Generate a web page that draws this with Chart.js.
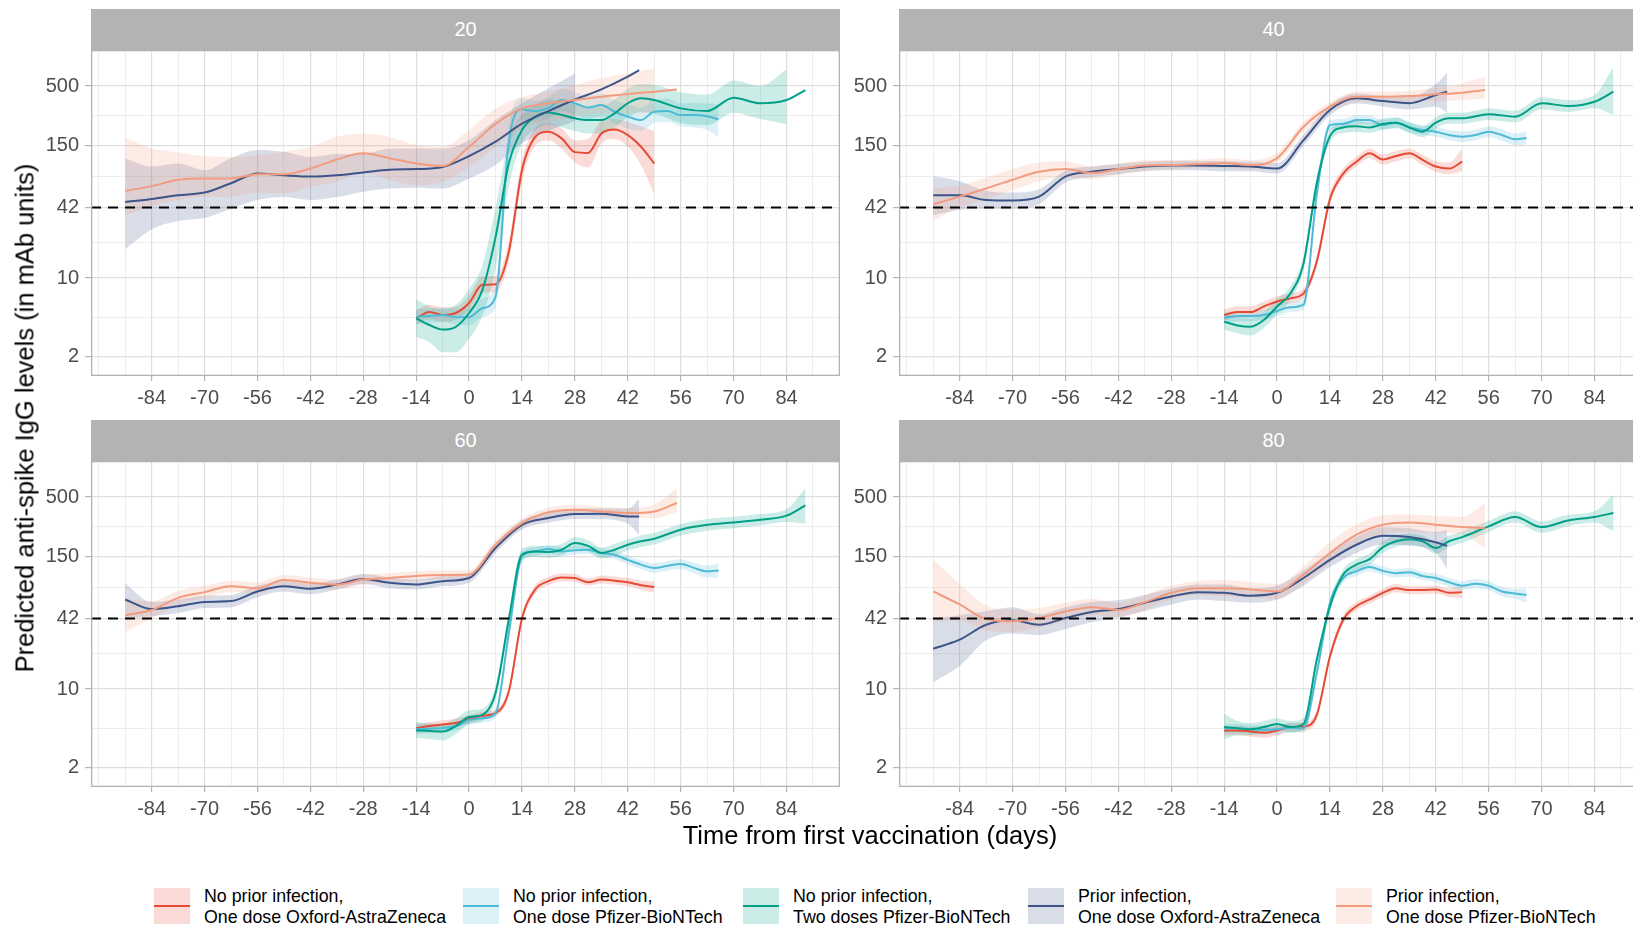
<!DOCTYPE html>
<html>
<head>
<meta charset="utf-8">
<script src="https://cdn.jsdelivr.net/npm/chart.js@4.4.1/dist/chart.umd.min.js"></script>
<style>
  body { margin: 0; width: 1633px; height: 930px; overflow: hidden; background: #fff; position: relative;
         font-family: "Liberation Sans", Arial, sans-serif; }
  canvas { position: absolute; }
  .strip { position: absolute; background: #b3b3b3; color: #fff; font-size: 20px;
           display: flex; align-items: center; justify-content: center; }
  .title { position: absolute; font-size: 25.5px; color: #000; white-space: nowrap; }
  .key { position: absolute; width: 36px; height: 36px; }
  .key i { position: absolute; left: 0; right: 0; top: 17px; height: 2px; }
  .ltext { position: absolute; font-size: 17.8px; line-height: 21px; color: #000; white-space: nowrap; }
</style>
</head>
<body>
<script>
// days on the x axis for each group
const dayNaiveAZ = [-14, -10.5, -7, -3.5, 0, 3.5, 7, 10.5, 14, 17.5, 21, 24.5, 28, 31.5, 35, 38.5, 42, 45.5, 49];
const dayNaivePf1 = [...dayNaiveAZ, 52.5, 56, 59.5, 63, 66];
const dayNaivePf2 = [...dayNaiveAZ, 56, 63, 70, 77, 84, 89];
const dayPriorAZ = [-91, -84, -77, -70, -63, -56, -49, -42, -35, -28, -21, -14, -7, 0, 7, 14, 21, 28, 35, 42, 45];
const dayPriorPf = [-91, -84, -77, -70, -63, -56, -49, -42, -35, -28, -21, -14, -7, 0, 7, 14, 21, 28, 35, 42, 49, 55];

const seriesLabels = [
  ['No prior infection,', 'One dose Oxford-AstraZeneca'],
  ['No prior infection,', 'One dose Pfizer-BioNTech'],
  ['No prior infection,', 'Two doses Pfizer-BioNTech'],
  ['Prior infection,', 'One dose Oxford-AstraZeneca'],
  ['Prior infection,', 'One dose Pfizer-BioNTech']
];
const seriesColors = ['#E64B35', '#4DBBD5', '#00A087', '#3C5488', '#F39B7F'];
const seriesDays = [dayNaiveAZ, dayNaivePf1, dayNaivePf2, dayPriorAZ, dayPriorPf];

const ageGroups = ['20', '40', '60', '80'];
const yMajor = [2, 10, 42, 150, 500];
const xMajor = [-84, -70, -56, -42, -28, -14, 0, 14, 28, 42, 56, 70, 84];
const threshold = 42;

// age 20
const age20AZ    = [4.4, 5.0, 4.7, 4.9, 6.0, 8.7, 8.8, 17, 90, 177, 197, 172, 130, 128, 190, 206, 184, 145, 103];
const age20AZlo  = [3.9, 4.3, 4.1, 4.3, 5.2, 7.4, 7.5, 14, 72, 148, 165, 140, 105, 95, 155, 170, 145, 100, 55];
const age20AZhi  = [5.2, 5.8, 5.5, 5.6, 7.0, 10.3, 10.4, 21, 110, 210, 235, 210, 165, 170, 245, 255, 240, 220, 200];
const age20Pf1   = [4.55, 4.6, 4.7, 4.5, 4.5, 5.4, 6.8, 160, 311, 300, 320, 376, 352, 323, 340, 296, 268, 250, 296, 300, 277, 277, 270, 254];
const age20Pf1lo = [3.9, 4.0, 4.1, 3.9, 3.8, 4.5, 5.5, 120, 250, 245, 255, 300, 280, 255, 270, 235, 210, 200, 235, 240, 220, 215, 205, 175];
const age20Pf1hi = [5.3, 5.3, 5.5, 5.3, 5.4, 6.6, 8.5, 215, 390, 370, 400, 470, 440, 410, 430, 375, 345, 320, 380, 385, 350, 355, 350, 345];
const age20Pf2   = [4.4, 3.84, 3.5, 3.7, 4.9, 7.8, 23, 103, 204, 268, 292, 277, 259, 250, 250, 286, 352, 389, 376, 317, 300, 394, 352, 376, 461];
const age20Pf2lo = [3.0, 2.7, 2.2, 2.2, 2.9, 4.6, 12, 65, 155, 205, 230, 215, 200, 190, 190, 215, 265, 295, 285, 235, 225, 290, 255, 230, null];
const age20Pf2hi = [6.5, 5.6, 5.3, 5.8, 8.0, 13, 42, 165, 280, 340, 380, 360, 345, 330, 330, 380, 470, 520, 510, 440, 420, 560, 500, 700, null];
const age20PriAZ   = [47, 50, 54, 57, 69, 84, 81, 79, 81, 86, 91, 92, 96, 120, 161, 232, 300, 380, 467, 605, 690];
const age20PriAZlo = [18, 27, 32, 34, 41, 49, 52, 49, 52, 58, 62, 63, 62, 76, 100, 156, 200, 245, null, null, null];
const age20PriAZhi = [115, 97, 103, 90, 115, 136, 131, 118, 125, 126, 139, 140, 140, 166, 250, 352, 477, 646, null, null, null];
const age20PriPf   = [59, 65, 74, 76, 76, 83, 83, 93, 112, 127, 115, 103, 98, 145, 231, 317, 352, 376, 402, 425, 446, 467];
const age20PriPflo = [36, 43, 49, 52, 52, 57, 56, 64, 71, 85, 74, 66, 71, 95, 145, 211, 242, 268, 286, 286, 290, null];
const age20PriPfhi = [175, 140, 130, 120, 118, 122, 131, 145, 178, 190, 178, 150, 145, 204, 317, 402, 446, 511, 585, 646, 716, null];

// age 40
const age40AZ    = [4.7, 5.0, 5.0, 5.6, 6.2, 6.6, 7.3, 14, 50, 84, 107, 127, 112, 120, 127, 111, 97, 93, 107];
const age40AZlo  = [4.2, 4.5, 4.5, 5.0, 5.6, 6.0, 6.6, 12.5, 45, 76, 97, 115, 101, 108, 115, 100, 87, 83, 88];
const age40AZhi  = [5.3, 5.6, 5.6, 6.2, 6.9, 7.3, 8.1, 15.5, 56, 93, 118, 140, 124, 133, 140, 123, 108, 105, 140];
const age40Pf1   = [4.45, 4.6, 4.6, 4.7, 5.1, 5.5, 5.8, 55, 226, 231, 250, 250, 226, 237, 215, 204, 197, 184, 178, 184, 197, 184, 169, 173];
const age40Pf1lo = [4.0, 4.15, 4.15, 4.25, 4.6, 5.0, 5.2, 48, 205, 210, 228, 228, 205, 215, 195, 185, 178, 166, 160, 166, 177, 164, 150, 152];
const age40Pf1hi = [4.95, 5.1, 5.1, 5.2, 5.6, 6.1, 6.4, 62, 250, 255, 275, 275, 250, 262, 238, 226, 218, 204, 198, 205, 220, 206, 190, 197];
const age40Pf2   = [4.1, 3.8, 3.7, 4.25, 5.6, 7.3, 13.5, 69, 180, 215, 220, 215, 231, 237, 215, 197, 237, 259, 259, 282, 268, 352, 333, 363, 446];
const age40Pf2lo = [3.5, 3.25, 3.1, 3.6, 4.8, 6.4, 11.8, 60, 160, 192, 196, 192, 206, 212, 192, 176, 212, 232, 232, 250, 238, 312, 295, 318, 277];
const age40Pf2hi = [4.8, 4.5, 4.4, 5.0, 6.5, 8.4, 15.5, 80, 202, 240, 246, 240, 258, 265, 240, 220, 265, 290, 290, 318, 302, 397, 376, 415, 740];
const age40PriAZ   = [54, 54, 49, 48.5, 52.5, 79, 87, 92, 97, 99, 99, 98, 97, 93, 166, 307, 389, 368, 352, 416, 446];
const age40PriAZlo = [36, 40, 41, 41, 45, 70, 78, 83, 88, 90, 90, 88, 88, 84, 148, 275, 350, 330, 310, 330, 290];
const age40PriAZhi = [80, 72, 59, 57, 61, 89, 97, 102, 107, 109, 109, 108, 107, 104, 186, 340, 430, 410, 400, 520, 660];
const age40PriPf   = [45, 52.5, 62, 74, 87, 92, 85, 92, 99, 100, 102, 104, 100, 115, 218, 328, 402, 402, 408, 422, 437, 461];
const age40PriPflo = [32, 42, 50, 60, 72, 78, 75, 82, 90, 92, 94, 94, 92, 105, 196, 295, 362, 365, 366, 370, 375, 385];
const age40PriPfhi = [62, 66, 77, 92, 105, 108, 97, 103, 110, 110, 112, 115, 111, 128, 240, 362, 446, 446, 455, 480, 530, 600];

// age 60
const age60AZ    = [4.5, 4.7, 4.85, 5.0, 5.4, 5.8, 6.1, 9.5, 42, 76, 90, 97, 96, 88, 93, 91, 88, 83, 80];
const age60AZlo  = [4.1, 4.3, 4.45, 4.6, 5.0, 5.4, 5.7, 8.7, 38, 70, 83, 90, 89, 82, 86, 84, 81, 76, 71];
const age60AZhi  = [4.9, 5.1, 5.3, 5.45, 5.85, 6.3, 6.6, 10.4, 46, 83, 98, 105, 104, 95, 101, 99, 96, 91, 90];
const age60Pf1   = [4.4, 4.45, 4.5, 4.7, 5.3, 5.5, 6.1, 31, 149, 165, 173, 165, 169, 171, 160, 154, 139, 126, 118, 123, 128, 118, 110, 112];
const age60Pf1lo = [4.0, 4.05, 4.1, 4.3, 4.85, 5.05, 5.6, 27, 136, 151, 159, 151, 155, 157, 147, 141, 127, 115, 107, 112, 116, 106, 97, 97];
const age60Pf1hi = [4.8, 4.85, 4.95, 5.15, 5.8, 6.0, 6.65, 35, 163, 180, 189, 180, 184, 187, 175, 168, 152, 138, 130, 135, 141, 131, 124, 130];
const age60Pf2   = [4.3, 4.25, 4.2, 4.7, 5.65, 5.9, 9.2, 41, 155, 165, 163, 171, 196, 185, 160, 171, 189, 203, 214, 257, 284, 298, 315, 342, 422];
const age60Pf2lo = [3.7, 3.6, 3.5, 4.0, 4.9, 5.2, 8.0, 36, 138, 147, 145, 152, 175, 165, 143, 152, 168, 181, 190, 228, 252, 265, 280, 300, 290];
const age60Pf2hi = [5.1, 4.95, 4.9, 5.5, 6.5, 6.7, 10.6, 47, 174, 185, 183, 192, 220, 207, 179, 192, 212, 228, 241, 289, 320, 335, 354, 390, 600];
const age60PriAZ   = [62, 51, 54, 59, 60, 73, 81, 77, 84, 94, 87, 84, 90, 96, 177, 284, 326, 354, 356, 337, 337];
const age60PriAZlo = [42, 44, 47, 52, 53, 65, 73, 69, 76, 85, 78, 76, 81, 87, 160, 258, 296, 320, 318, 290, 232];
const age60PriAZhi = [86, 59, 62, 67, 68, 82, 90, 86, 93, 104, 97, 93, 100, 106, 196, 312, 360, 392, 398, 395, 480];
const age60PriPf   = [45, 50, 64, 72, 81, 78, 92, 87, 84, 93, 96, 100, 102, 103, 189, 294, 366, 386, 373, 361, 373, 443];
const age60PriPflo = [32, 42, 56, 64, 72, 70, 83, 78, 76, 84, 87, 91, 93, 94, 172, 268, 333, 352, 338, 325, 325, 370];
const age60PriPfhi = [62, 60, 74, 82, 91, 88, 102, 97, 93, 103, 106, 110, 112, 113, 208, 322, 402, 424, 410, 400, 428, 600];

// age 80
const age80AZ    = [4.3, 4.3, 4.2, 4.1, 4.3, 4.6, 4.65, 5.9, 19.5, 41, 54, 62, 71, 78, 75, 75, 76, 71, 72];
const age80AZlo  = [3.9, 3.9, 3.8, 3.7, 3.9, 4.2, 4.25, 5.4, 17.8, 37.5, 49.5, 57, 65, 72, 69, 69, 70, 65, 64];
const age80AZhi  = [4.7, 4.7, 4.6, 4.5, 4.7, 5.0, 5.1, 6.4, 21.3, 45, 59, 67, 77, 85, 81, 81, 82, 78, 82];
const age80Pf1   = [4.5, 4.5, 4.4, 4.35, 4.4, 4.55, 4.5, 13.9, 58, 96, 110, 120, 111, 106, 108, 100, 96, 88, 82, 85.5, 82, 73, 70, 68];
const age80Pf1lo = [4.1, 4.1, 4.0, 3.95, 4.0, 4.15, 4.1, 12.5, 52, 87, 100, 110, 102, 97, 99, 92, 88, 80, 75, 78, 75, 66, 63, 58];
const age80Pf1hi = [4.9, 4.9, 4.8, 4.75, 4.8, 5.0, 4.95, 15.3, 64, 105, 120, 131, 121, 116, 118, 109, 105, 96, 90, 94, 90, 80, 77, 78];
const age80Pf2   = [4.6, 4.5, 4.4, 4.6, 4.9, 4.6, 4.9, 18.2, 54, 103, 126, 141, 180, 203, 212, 203, 177, 203, 221, 275, 333, 271, 310, 333, 361];
const age80Pf2lo = [3.6, 3.9, 3.9, 4.1, 4.4, 4.1, 4.4, 16.4, 48, 92, 112, 126, 160, 181, 189, 181, 158, 181, 197, 245, 297, 241, 276, 297, 248];
const age80Pf2hi = [6.0, 5.2, 5.0, 5.2, 5.5, 5.2, 5.5, 20.2, 60, 115, 141, 158, 202, 228, 238, 228, 198, 228, 248, 308, 374, 304, 348, 374, 524];
const age80PriAZ   = [22.7, 27.3, 37, 40.5, 37, 42.5, 48, 51, 58, 66, 72, 71, 67, 71, 96, 139, 189, 227, 221, 199, 185];
const age80PriAZlo = [11.5, 16, 27, 31, 30, 34, 39, 43, 49, 56, 62, 60, 58, 62, 82, 120, 160, 190, 185, 160, 115];
const age80PriAZhi = [42, 45, 49, 53, 46, 53, 59, 61, 68, 77, 84, 84, 78, 82, 112, 162, 222, 270, 265, 245, 255];
const age80PriPf   = [73, 56, 41.6, 39.7, 42.5, 48.6, 53, 50, 58.5, 71, 78, 78, 76, 73, 103, 160, 232, 284, 298, 284, 271, 266];
const age80PriPflo = [40, 40, 33, 32, 35, 40, 45, 43, 50, 62, 68, 66, 65, 62, 86, 130, 190, 235, 245, 240, 235, 175];
const age80PriPfhi = [140, 85, 55, 50, 52, 58, 63, 58, 68, 82, 90, 92, 88, 85, 122, 200, 285, 345, 350, 340, 335, 440];

const panelSeries = [
  [[age20AZ, age20AZlo, age20AZhi], [age20Pf1, age20Pf1lo, age20Pf1hi], [age20Pf2, age20Pf2lo, age20Pf2hi],
   [age20PriAZ, age20PriAZlo, age20PriAZhi], [age20PriPf, age20PriPflo, age20PriPfhi]],
  [[age40AZ, age40AZlo, age40AZhi], [age40Pf1, age40Pf1lo, age40Pf1hi], [age40Pf2, age40Pf2lo, age40Pf2hi],
   [age40PriAZ, age40PriAZlo, age40PriAZhi], [age40PriPf, age40PriPflo, age40PriPfhi]],
  [[age60AZ, age60AZlo, age60AZhi], [age60Pf1, age60Pf1lo, age60Pf1hi], [age60Pf2, age60Pf2lo, age60Pf2hi],
   [age60PriAZ, age60PriAZlo, age60PriAZhi], [age60PriPf, age60PriPflo, age60PriPfhi]],
  [[age80AZ, age80AZlo, age80AZhi], [age80Pf1, age80Pf1lo, age80Pf1hi], [age80Pf2, age80Pf2lo, age80Pf2hi],
   [age80PriAZ, age80PriAZlo, age80PriAZhi], [age80PriPf, age80PriPflo, age80PriPfhi]]
];

// layout
const PLOT_W = 749, PLOT_H = 326, STRIP_H = 41, Y_AXIS_W = 64, X_AXIS_H = 44;
const panelPos = [[91, 50], [899, 50], [91, 461], [899, 461]];
const X_MIN = -100.05, X_MAX = 98.15, Y_MIN = 1.357, Y_MAX = 1042;
const FONT = '"Liberation Sans", Arial, sans-serif';

// ggplot-style minor breaks: halfway between majors
const xGrid = [];
for (let d = -98; d <= 98; d += 7) xGrid.push(d);
const yGrid = [];
yMajor.forEach((v, i) => {
  yGrid.push(v);
  if (i < yMajor.length - 1) yGrid.push(Math.sqrt(v * yMajor[i + 1]));
});

function fade(hex, a) {
  const n = parseInt(hex.slice(1), 16);
  return `rgba(${n >> 16},${(n >> 8) & 255},${n & 255},${a})`;
}

function pts(days, vals) {
  return days.map((d, i) => ({ x: d, y: vals[i] }));
}

function noPad(sc) {
  sc.paddingTop = 0; sc.paddingBottom = 0; sc.paddingLeft = 0; sc.paddingRight = 0;
}

const panelFrame = {
  id: 'panelFrame',
  afterDatasetsDraw(chart) {
    const { ctx, chartArea: a } = chart;
    const yy = chart.scales.y.getPixelForValue(threshold);
    ctx.save();
    ctx.beginPath();
    ctx.rect(a.left, a.top, a.width, a.height);
    ctx.clip();
    ctx.setLineDash([10, 7]);
    ctx.lineWidth = 2;
    ctx.strokeStyle = '#000';
    ctx.beginPath();
    ctx.moveTo(a.left, yy);
    ctx.lineTo(a.right, yy);
    ctx.stroke();
    ctx.restore();
    ctx.save();
    ctx.strokeStyle = '#b3b3b3';
    ctx.lineWidth = 1.3;
    ctx.strokeRect(a.left + 0.65, a.top + 0.65, a.width - 1.3, a.height - 1.3);
    ctx.restore();
  }
};

function buildDatasets(series) {
  const ds = [];
  series.forEach(([, lo, hi], i) => {
    const col = seriesColors[i];
    ds.push({ data: pts(seriesDays[i], hi), fill: ds.length + 1, backgroundColor: fade(col, 0.2),
              borderWidth: 0, pointRadius: 0, order: 20 - i, cubicInterpolationMode: 'monotone' });
    ds.push({ data: pts(seriesDays[i], lo), fill: false, borderWidth: 0, pointRadius: 0,
              order: 20 - i, cubicInterpolationMode: 'monotone' });
  });
  series.forEach(([mid], i) => {
    ds.push({ data: pts(seriesDays[i], mid), fill: false, borderColor: seriesColors[i], borderWidth: 2,
              pointRadius: 0, order: 10 - i, cubicInterpolationMode: 'monotone' });
  });
  return ds;
}

const tickFont = { family: FONT, size: 20 };

ageGroups.forEach((age, p) => {
  const [left, top] = panelPos[p];

  const strip = document.createElement('div');
  strip.className = 'strip';
  Object.assign(strip.style, { left: left + 'px', top: (top - STRIP_H) + 'px', width: PLOT_W + 'px', height: STRIP_H + 'px' });
  strip.textContent = age;
  document.body.appendChild(strip);

  const canvas = document.createElement('canvas');
  canvas.width = Y_AXIS_W + PLOT_W;
  canvas.height = PLOT_H + X_AXIS_H;
  canvas.style.left = (left - Y_AXIS_W) + 'px';
  canvas.style.top = top + 'px';
  document.body.appendChild(canvas);

  new Chart(canvas, {
    type: 'line',
    data: { datasets: buildDatasets(panelSeries[p]) },
    options: {
      responsive: false,
      animation: false,
      events: [],
      spanGaps: false,
      layout: { padding: 0 },
      plugins: { legend: { display: false }, tooltip: { enabled: false } },
      scales: {
        x: {
          type: 'linear', min: X_MIN, max: X_MAX,
          afterBuildTicks: (sc) => { sc.ticks = xGrid.map(v => ({ value: v })); },
          afterFit: (sc) => { sc.height = X_AXIS_H; noPad(sc); },
          border: { display: false },
          ticks: {
            autoSkip: false, maxRotation: 0, minRotation: 0, padding: 5, color: '#4d4d4d', font: tickFont,
            callback: (v) => xMajor.includes(v) ? String(v) : ''
          },
          grid: {
            color: (c) => c.tick && xMajor.includes(c.tick.value) ? '#dedede' : '#e9e9e9',
            lineWidth: (c) => c.tick && xMajor.includes(c.tick.value) ? 1.2 : 0.8,
            tickLength: 5,
            tickWidth: 1.2,
            tickColor: (c) => c.tick && xMajor.includes(c.tick.value) ? '#b3b3b3' : 'rgba(0,0,0,0)'
          }
        },
        y: {
          type: 'logarithmic', min: Y_MIN, max: Y_MAX,
          afterBuildTicks: (sc) => { sc.ticks = yGrid.map(v => ({ value: v })); },
          afterFit: (sc) => { sc.width = Y_AXIS_W; noPad(sc); },
          border: { display: false },
          ticks: {
            autoSkip: false, padding: 6, color: '#4d4d4d', font: tickFont,
            callback: (v) => yMajor.includes(v) ? String(v) : ''
          },
          grid: {
            color: (c) => c.tick && yMajor.includes(c.tick.value) ? '#dedede' : '#e9e9e9',
            lineWidth: (c) => c.tick && yMajor.includes(c.tick.value) ? 1.2 : 0.8,
            tickLength: 6,
            tickWidth: 1.2,
            tickColor: (c) => c.tick && yMajor.includes(c.tick.value) ? '#b3b3b3' : 'rgba(0,0,0,0)'
          }
        }
      }
    },
    plugins: [panelFrame]
  });
});

// axis titles
const yTitle = document.createElement('div');
yTitle.className = 'title';
yTitle.textContent = 'Predicted anti-spike IgG levels (in mAb units)';
Object.assign(yTitle.style, { left: '25px', top: '418px', transform: 'translate(-50%, -50%) rotate(-90deg)' });
document.body.appendChild(yTitle);

const xTitle = document.createElement('div');
xTitle.className = 'title';
xTitle.textContent = 'Time from first vaccination (days)';
Object.assign(xTitle.style, { left: '870px', top: '835px', transform: 'translate(-50%, -50%)' });
document.body.appendChild(xTitle);

// legend
const legendX = [154, 463, 743, 1028, 1336];
seriesLabels.forEach((lines, i) => {
  const key = document.createElement('div');
  key.className = 'key';
  Object.assign(key.style, { left: legendX[i] + 'px', top: '888px', background: fade(seriesColors[i], 0.2) });
  const line = document.createElement('i');
  line.style.background = seriesColors[i];
  key.appendChild(line);
  document.body.appendChild(key);

  const txt = document.createElement('div');
  txt.className = 'ltext';
  Object.assign(txt.style, { left: (legendX[i] + 50) + 'px', top: '886px' });
  txt.innerHTML = lines.join('<br>');
  document.body.appendChild(txt);
});
</script>
</body>
</html>
